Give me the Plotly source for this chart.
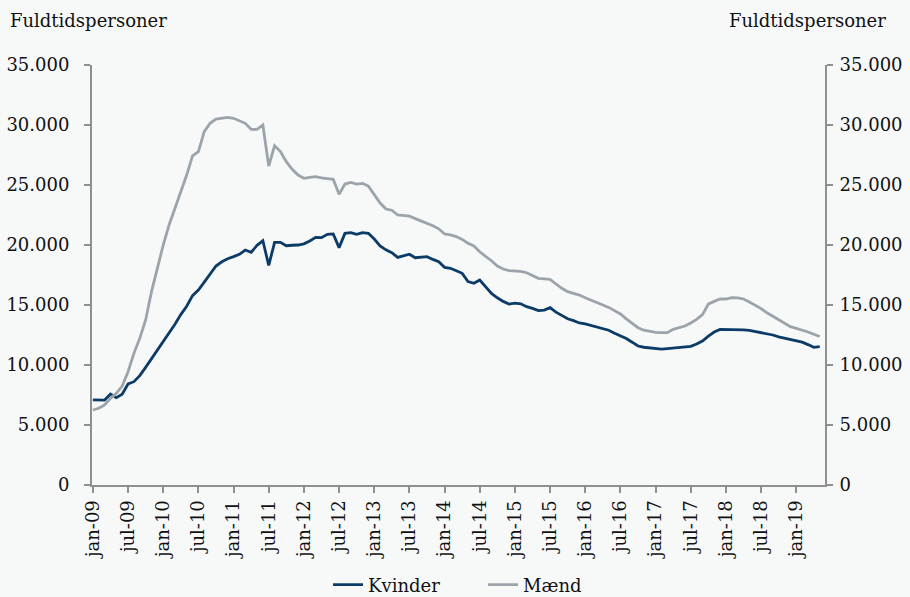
import plotly.graph_objects as go

# Monthly data jan-09 .. may-19
months = ["jan", "feb", "mar", "apr", "maj", "jun", "jul", "aug", "sep", "okt", "nov", "dec"]
start_year = 2009
n_points = 125

kvinder = [
    # 2009
    7100, 7100, 7080, 7580, 7280, 7560, 8420, 8610, 9110, 9800, 10500, 11200,
    # 2010
    12000, 12700, 13400, 14200, 14900, 15780, 16250, 16900, 17600, 18250, 18600, 18860,
    # 2011
    19030, 19220, 19580, 19390, 19970, 20360, 18300, 20220, 20220, 19940, 19980, 20000,
    # 2012
    20100, 20330, 20640, 20610, 20890, 20920, 19780, 20970, 21030, 20890, 21030, 20970,
    # 2013
    20500, 19920, 19600, 19360, 18970, 19100, 19230, 18940, 18980, 19030, 18800, 18600,
    # 2014
    18140, 18060, 17850, 17640, 16960, 16810, 17080, 16500, 15970, 15600, 15300, 15080,
    # 2015
    15150, 15100, 14860, 14720, 14530, 14580, 14780, 14400, 14100, 13850, 13700, 13500,
    # 2016
    13420, 13300, 13150, 13000, 12900, 12650, 12450, 12200, 11900, 11580, 11480, 11420,
    # 2017
    11380, 11330, 11370, 11420, 11470, 11500, 11560, 11750, 12000, 12400, 12750, 12970,
    # 2018
    12970, 12970, 12960, 12930, 12880, 12800, 12690, 12620, 12500, 12350, 12250, 12150,
    # 2019
    12050, 11900, 11700, 11470, 11530,
]

maend = [
    # 2009
    6250, 6390, 6670, 7220, 7640, 8250, 9440, 10970, 12220, 13750, 16110, 18060,
    # 2010
    20000, 21670, 23060, 24440, 25830, 27420, 27780, 29440, 30140, 30500, 30600, 30640,
    # 2011
    30560, 30330, 30140, 29640, 29640, 30000, 26580, 28280, 27780, 26940, 26310, 25830,
    # 2012
    25560, 25640, 25690, 25600, 25530, 25470, 24220, 25080, 25220, 25080, 25140, 24900,
    # 2013
    24200, 23500, 23000, 22900, 22500, 22450, 22400, 22200, 22000, 21850, 21600, 21350,
    # 2014
    20920, 20850, 20700, 20470, 20150, 19920, 19440, 19050, 18690, 18250, 18000, 17860,
    # 2015
    17860, 17800, 17690, 17450, 17220, 17180, 17140, 16750, 16390, 16110, 15950, 15830,
    # 2016
    15600, 15420, 15200, 15000, 14800, 14500, 14250, 13850, 13500, 13110, 12900, 12800,
    # 2017
    12720, 12690, 12690, 12970, 13100, 13250, 13500, 13800, 14200, 15080, 15300, 15500,
    # 2018
    15500, 15620, 15600, 15500, 15250, 15000, 14700, 14350, 14050, 13750, 13450, 13190,
    # 2019
    13050, 12920, 12750, 12560, 12380,
]

x_idx = list(range(n_points))
tick_vals = list(range(0, n_points, 6))
tick_text = [f"{months[i % 12]}-{(start_year + i // 12) % 100:02d}" for i in tick_vals]

y_ticks = [0, 5000, 10000, 15000, 20000, 25000, 30000, 35000]

navy = "#0b3b66"
grey = "#9ba4ab"
axis_grey = "#8f8f8f"
bg = "#f7f9f9"
font_family = "DejaVu Serif"

fig = go.Figure()
fig.add_trace(go.Scatter(x=x_idx, y=kvinder, name="Kvinder", mode="lines",
                         line=dict(color=navy, width=2.8)))
fig.add_trace(go.Scatter(x=x_idx, y=maend, name="Mænd", mode="lines",
                         line=dict(color=grey, width=2.8)))
fig.add_trace(go.Scatter(x=[None], y=[None], yaxis="y2", showlegend=False, hoverinfo="skip"))

fig.update_layout(
    width=910, height=597,
    paper_bgcolor=bg, plot_bgcolor=bg,
    separators=",.",
    font=dict(family=font_family, size=18, color="#111111"),
    margin=dict(l=92, r=85, t=65, b=112, autoexpand=False),
    showlegend=True,
    legend=dict(orientation="h", x=0.322, xanchor="left", y=-0.238, yanchor="middle",
                font=dict(size=18), bgcolor="rgba(0,0,0,0)", entrywidth=110),
    xaxis=dict(range=[-0.15, 124.9], tickvals=tick_vals, ticktext=tick_text, tickangle=-90,
               showline=True, linecolor=axis_grey, linewidth=2, ticks="outside",
               tickcolor=axis_grey, ticklen=6, tickwidth=1.5, showgrid=False, zeroline=False),
    yaxis=dict(range=[0, 35000], tickvals=y_ticks, tickformat=",.0f", showline=True,
               linecolor=axis_grey, linewidth=2, ticks="outside", tickcolor=axis_grey,
               ticklen=6, tickwidth=1.5, showgrid=False, zeroline=False, ticklabelstandoff=11),
    yaxis2=dict(range=[0, 35000], tickvals=y_ticks, tickformat=",.0f", overlaying="y",
                side="right", showline=True, linecolor=axis_grey, linewidth=2, ticks="outside",
                tickcolor=axis_grey, ticklen=6, tickwidth=1.5, showgrid=False, zeroline=False,
                ticklabelstandoff=3),
    annotations=[
        dict(text="Fuldtidspersoner", xref="paper", yref="paper", x=-0.1146, y=1.107,
             xanchor="left", yanchor="middle", showarrow=False),
        dict(text="Fuldtidspersoner", xref="paper", yref="paper", x=1.086, y=1.107,
             xanchor="right", yanchor="middle", showarrow=False),
    ],
)

fig.write_html("out.html", config={"displayModeBar": False},
               post_script="document.body.style.margin='0';document.body.style.padding='0';")
